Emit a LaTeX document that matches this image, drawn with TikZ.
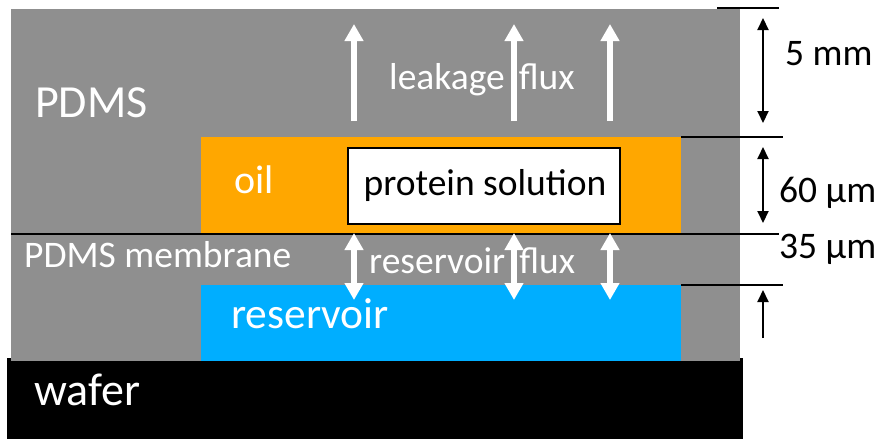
\documentclass[tikz,border=0pt]{standalone}
\usepackage{fontspec}
\setmainfont{Carlito}
\usetikzlibrary{arrows.meta}
\definecolor{pdms}{RGB}{143,143,143}
\definecolor{oilc}{RGB}{255,167,0}
\definecolor{resc}{RGB}{0,174,255}
\tikzset{
  wtxt/.style={text=white, inner sep=0pt, font=\fontsize{37.5}{42}\selectfont},
  btxt/.style={text=black, inner sep=0pt, font=\fontsize{37.5}{42}\selectfont},
  whitearrow/.style={white, line width=6pt, -{Triangle[length=17pt,width=18pt]}},
  whitedarrow/.style={white, line width=6pt, {Triangle[length=17pt,width=18pt]}-{Triangle[length=17pt,width=18pt]}},
  dimarrow/.style={black, line width=2pt, {Triangle[length=12pt,width=11pt]}-{Triangle[length=12pt,width=11pt]}},
  dimuparrow/.style={black, line width=2pt, -{Triangle[length=12pt,width=11pt]}},
  dimline/.style={black, line width=2pt},
}
\begin{document}
\begin{tikzpicture}[x=1pt,y=-1pt]
\useasboundingbox (0,0) rectangle (879,439);
% layers
\fill[black] (7,358) rectangle (743,439);
\fill[pdms] (11,9) rectangle (740,361);
\fill[oilc] (201,137) rectangle (681,233);
\fill[resc] (201,285) rectangle (681,361);
\node[draw=black, line width=2pt, fill=white, minimum width=272pt, minimum height=76pt, inner sep=0pt, anchor=north west] (prot) at (347,147) {};
% lines
\draw[dimline] (11,234) -- (779,234);
\draw[dimline] (717,8) -- (779,8);
\draw[dimline] (681,137) -- (783,137);
\draw[dimline] (681,285) -- (783,285);
% texts
\node[wtxt, anchor=base west, font=\fontsize{46}{50}\selectfont] (pdmst) at (35,117) {PDMS};
\node[wtxt, anchor=base west, font=\fontsize{46}{50}\selectfont] (wafert) at (34,405) {wafer};
\node[wtxt, anchor=base west, font=\fontsize{43.5}{48}\selectfont] (rest) at (231,328) {reservoir};
\node[wtxt, anchor=base west, font=\fontsize{40}{44}\selectfont] (oilt) at (234,193) {oil};
\node[btxt, anchor=base] (protl) at (485,195) {protein solution};
\node[wtxt, anchor=base west] (membt) at (24,267) {PDMS membrane};
\node[wtxt, anchor=base west] (leakt) at (389,89) {leakage\hspace{14pt}flux};
\node[wtxt, anchor=base west] (rflux) at (369,273) {reservoir\hspace{14pt}flux};
\node[btxt, anchor=base west] (d5) at (785,65) {5 mm};
\node[btxt, anchor=base west] (d60) at (779,202) {60 μm};
\node[btxt, anchor=base west] (d35) at (779,258) {35 μm};
% leakage arrows
\foreach \x in {354,514,610} {
  \draw[whitearrow] (\x,121) -- (\x,24);
  \draw[whitedarrow] (\x,233) -- (\x,300);
}
% dimension arrows
\draw[dimarrow] (763,18) -- (763,123);
\draw[dimarrow] (763,147) -- (763,223);
\draw[dimuparrow] (763,338) -- (763,290);
\end{tikzpicture}
\end{document}
